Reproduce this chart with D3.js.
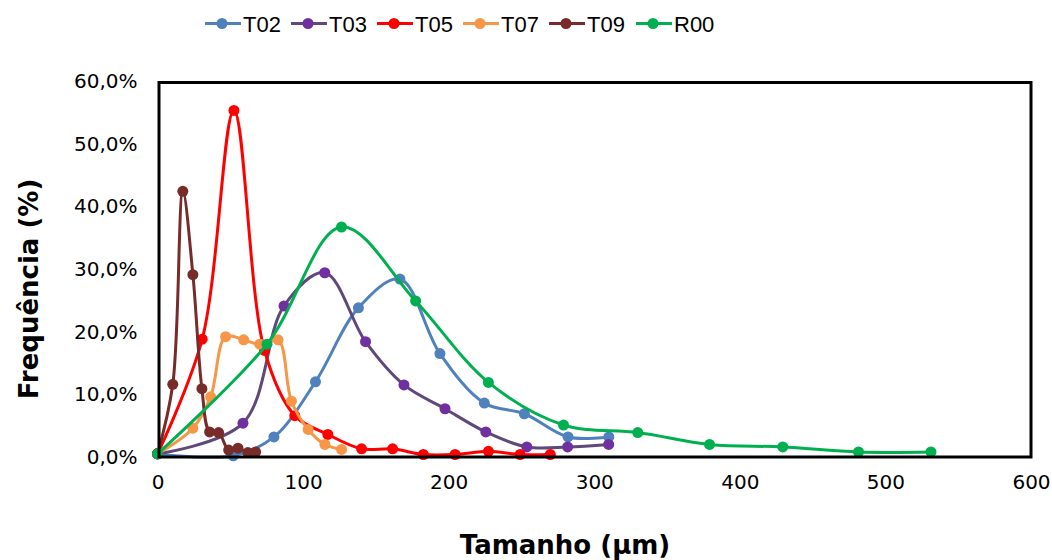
<!DOCTYPE html>
<html><head><meta charset="utf-8">
<script src="https://cdn.jsdelivr.net/npm/d3@7"></script>
<style>html,body{margin:0;padding:0;background:#fff}</style>
</head><body>
<svg id="c" width="1052" height="560"></svg>
<script>
const seriesNames = ["T02","T03","T05","T07","T09","R00"];
const t02x = [0, 52, 80, 108.5, 138, 166.5, 194, 224.5, 252, 282, 310];
const t02y = [0.5, 0.2, 3.2, 12.0, 23.8, 28.4, 16.5, 8.6, 6.9, 3.2, 3.2];
const t03x = [0, 58.7, 86.9, 114.9, 142.9, 169.3, 197.5, 225.5, 253.7, 281.7, 309.9];
const t03y = [0.5, 5.4, 24.1, 29.4, 18.4, 11.5, 7.7, 4.0, 1.6, 1.6, 2.0];
const t05x = [0, 30.7, 52.5, 73.5, 94.3, 117, 140.2, 161.5, 182.6, 204.4, 227.3, 249.1, 269.8];
const t05y = [0.5, 18.8, 55.3, 17.0, 6.6, 3.6, 1.3, 1.3, 0.4, 0.4, 0.9, 0.4, 0.4];
const t07x = [0, 24.3, 36.5, 46.8, 59.2, 70.2, 82.8, 92, 103.5, 115, 126.4];
const t07y = [0.5, 4.6, 9.6, 19.2, 18.7, 18.0, 18.7, 8.9, 4.4, 2.0, 1.2];
const t09x = [0, 10.5, 17.4, 24.3, 30.5, 35.8, 42, 48.9, 55.3, 62.1, 67.4];
const t09y = [0.5, 11.6, 42.4, 29.1, 10.9, 4.0, 3.9, 1.1, 1.4, 0.7, 0.8];
const r00x = [0, 75.2, 126.4, 177.3, 227.3, 278.9, 329.9, 379.2, 429.5, 481.5, 531.3];
const r00y = [0.5, 18.0, 36.7, 24.9, 11.9, 5.1, 3.9, 2.0, 1.6, 0.8, 0.8];
const xTicks = [0, 100, 200, 300, 400, 500, 600];
const yTicks = [0, 10, 20, 30, 40, 50, 60];
const yTickLabels = ["0,0%","10,0%","20,0%","30,0%","40,0%","50,0%","60,0%"];

const lineColors = ["#4f81bd","#5f497a","#ff0000","#f79646","#772c2a","#00b050"];
const markColors = ["#4f81bd","#7030a0","#ff0000","#f79646","#772c2a","#00b050"];
const xs = [t02x,t03x,t05x,t07x,t09x,r00x];
const ys = [t02y,t03y,t05y,t07y,t09y,r00y];

const svg = d3.select("#c");
const x = d3.scaleLinear().domain([0,600]).range([157.5,1031]);
const y = d3.scaleLinear().domain([0,60]).range([457,81]);
const tickFont = "'DejaVu Sans', Verdana, sans-serif";

const gx = svg.append("g").attr("transform","translate(0,457)")
  .call(d3.axisBottom(x).tickValues(xTicks).tickSize(0).tickPadding(18).tickFormat(d3.format("d")));
gx.select(".domain").remove();
gx.selectAll("text").attr("font-family",tickFont).attr("font-size",20).attr("fill","#000");

const gy = svg.append("g").attr("transform","translate(157.5,0)")
  .call(d3.axisLeft(y).tickValues(yTicks).tickSize(0).tickPadding(20).tickFormat((d,i)=>yTickLabels[i]));
gy.select(".domain").remove();
gy.selectAll("text").attr("font-family",tickFont).attr("font-size",20).attr("fill","#000");

const line = d3.line().x(d=>x(d[0])).y(d=>y(d[1])).curve(d3.curveCatmullRom.alpha(0.5));
seriesNames.forEach((name,i)=>{
  const data = xs[i].map((v,j)=>[v, ys[i][j]]);
  const g = svg.append("g");
  g.append("path").datum(data).attr("d",line).attr("fill","none")
    .attr("stroke",lineColors[i]).attr("stroke-width",3).attr("stroke-linejoin","round");
  g.selectAll("circle").data(data).join("circle")
    .attr("cx",d=>x(d[0])).attr("cy",d=>y(d[1])).attr("r",5.5).attr("fill",markColors[i]);
});

svg.append("rect").attr("x",x(0)+1.5).attr("y",y(60)+1.5)
  .attr("width",x(600)-x(0)-1.5).attr("height",y(0)-y(60)-1.5)
  .attr("fill","none").attr("stroke","#000").attr("stroke-width",3);

const legX = [205, 291, 377, 463, 549, 636];
const leg = svg.append("g");
seriesNames.forEach((name,i)=>{
  const lx = legX[i];
  leg.append("line").attr("x1",lx).attr("x2",lx+36).attr("y1",23.5).attr("y2",23.5)
    .attr("stroke",lineColors[i]).attr("stroke-width",3);
  leg.append("circle").attr("cx",lx+17).attr("cy",23.5).attr("r",5.5).attr("fill",markColors[i]);
  leg.append("text").attr("x",lx+38).attr("y",32).text(name)
    .attr("font-family","'Liberation Sans Narrow','Liberation Sans',Arial,sans-serif")
    .attr("font-size",22).attr("fill","#000");
});

svg.append("text").attr("x",565).attr("y",554).attr("text-anchor","middle")
  .attr("font-family",tickFont).attr("font-weight","bold").attr("font-size",26)
  .text("Tamanho (µm)");
svg.append("text").attr("transform","translate(38,289) rotate(-90)").attr("text-anchor","middle")
  .attr("font-family",tickFont).attr("font-weight","bold").attr("font-size",26)
  .text("Frequência (%)");
</script>
</body></html>
